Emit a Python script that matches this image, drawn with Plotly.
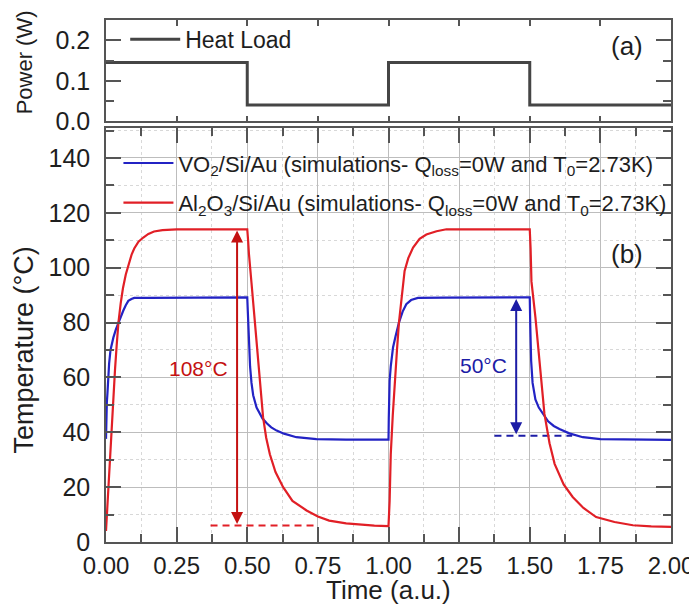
import plotly.graph_objects as go

# ---------------- data ----------------
# (a) heat load step profile
heat_time = [0.0, 0.5, 1.0, 1.5, 2.0]
heat_load = [0.145, 0.04, 0.145, 0.04, 0.04]

# (b) VO2/Si/Au simulation
vo2_time = [
    0.000, 0.001, 0.003, 0.005, 0.008, 0.011, 0.016, 0.021, 0.026, 0.035, 0.044, 0.052, 0.061, 0.070, 0.079, 0.090, 0.100, 0.150, 0.250, 0.499,
    0.500, 0.502, 0.504, 0.507, 0.510, 0.515, 0.521, 0.533, 0.545, 0.554, 0.570, 0.585, 0.604, 0.630, 0.674, 0.745, 0.850, 0.999,
    1.000, 1.001, 1.004, 1.008, 1.012, 1.016, 1.025, 1.037, 1.050, 1.063, 1.080, 1.104, 1.200, 1.499,
    1.500, 1.502, 1.505, 1.510, 1.520, 1.532, 1.546, 1.565, 1.585, 1.605, 1.640, 1.688, 1.750, 1.850, 2.000]
vo2_temp = [
    37.6, 46.0, 51.0, 54.0, 60.0, 65.0, 70.0, 72.5, 74.5, 77.5, 80.0, 82.5, 84.3, 86.3, 87.9, 88.6, 89.0, 89.0, 89.1, 89.2,
    89.2, 84.0, 77.0, 70.0, 64.0, 58.0, 53.5, 49.0, 46.5, 45.0, 43.2, 41.8, 40.6, 39.5, 38.2, 37.5, 37.3, 37.3,
    37.3, 45.0, 58.8, 64.0, 68.0, 70.9, 75.0, 80.0, 84.0, 86.7, 88.2, 89.0, 89.1, 89.2,
    89.2, 78.0, 66.0, 58.0, 52.0, 49.0, 46.7, 44.0, 42.3, 41.2, 39.6, 38.2, 37.5, 37.3, 37.2]

# (b) Al2O3/Si/Au simulation
al2o3_time = [
    0.000, 0.004, 0.008, 0.012, 0.016, 0.020, 0.026, 0.032, 0.038, 0.044, 0.052, 0.060, 0.070, 0.080, 0.091, 0.100, 0.115, 0.132, 0.150, 0.170, 0.200, 0.250, 0.350, 0.499,
    0.500, 0.503, 0.506, 0.515, 0.527, 0.540, 0.556, 0.567, 0.580, 0.600, 0.627, 0.660, 0.710, 0.750, 0.790, 0.850, 0.900, 0.950, 0.999,
    1.000, 1.004, 1.008, 1.015, 1.022, 1.030, 1.037, 1.047, 1.057, 1.070, 1.087, 1.110, 1.134, 1.170, 1.205, 1.300, 1.400, 1.499,
    1.500, 1.503, 1.506, 1.520, 1.535, 1.552, 1.570, 1.588, 1.620, 1.652, 1.690, 1.735, 1.800, 1.865, 1.930, 2.000]
al2o3_temp = [
    4.0, 12.0, 20.0, 28.0, 36.0, 44.0, 54.0, 63.0, 72.0, 80.0, 87.0, 92.5, 97.5, 101.5, 104.9, 107.0, 109.5, 111.0, 112.3, 113.2, 113.7, 114.0, 114.0, 114.0,
    114.0, 110.0, 105.0, 94.5, 80.6, 65.0, 45.5, 38.0, 32.0, 25.5, 20.0, 15.0, 11.5, 9.3, 7.8, 6.8, 6.3, 6.0, 5.8,
    5.8, 15.0, 32.0, 46.0, 58.8, 70.0, 80.0, 90.0, 98.8, 103.5, 107.3, 110.5, 112.1, 113.3, 114.0, 114.0, 114.0, 114.0,
    114.0, 107.0, 95.0, 82.0, 65.0, 46.7, 36.0, 28.5, 21.0, 16.4, 12.4, 9.1, 7.3, 6.1, 5.7, 5.5]

# swing annotations
al2o3_swing_time = 0.464
al2o3_swing = [6.0, 113.6]          # 108 °C swing
al2o3_ref_time = [0.37, 0.75]
vo2_swing_time = 1.452
vo2_swing = [38.7, 88.6]            # 50 °C swing
vo2_ref_time = [1.375, 1.65]

labels_b = ["VO<sub>2</sub>/Si/Au (simulations- Q<sub>loss</sub>=0W and T<sub>0</sub>=2.73K)",
            "Al<sub>2</sub>O<sub>3</sub>/Si/Au (simulations- Q<sub>loss</sub>=0W and T<sub>0</sub>=2.73K)"]

# ---------------- styling ----------------
FONT = "Liberation Sans, Arial, sans-serif"
AX = "#555555"
TXT = "#1e1e1e"
RED = "#e11f26"
RED_D = "#c41111"
BLUE = "#2323c4"
BLUE_D = "#1c1ca6"

fig = go.Figure()

fig.add_trace(go.Scatter(x=heat_time, y=heat_load, mode="lines", name="Heat Load",
                         line=dict(shape="hv", color="#454545", width=3),
                         xaxis="x2", yaxis="y2", legend="legend"))

fig.add_trace(go.Scatter(x=vo2_ref_time, y=[vo2_swing[0]] * 2, mode="lines", showlegend=False,
                         line=dict(color=BLUE_D, width=2, dash="7px,5px"), hoverinfo="skip"))
fig.add_trace(go.Scatter(x=al2o3_ref_time, y=[al2o3_swing[0]] * 2, mode="lines", showlegend=False,
                         line=dict(color=RED, width=2, dash="7px,5px"), hoverinfo="skip"))

fig.add_trace(go.Scatter(x=vo2_time, y=vo2_temp, mode="lines", name=labels_b[0],
                         line=dict(color=BLUE, width=2.2), legend="legend2", legendgroup="g1"))
fig.add_trace(go.Scatter(x=al2o3_time, y=al2o3_temp, mode="lines", name=labels_b[1],
                         line=dict(color=RED, width=2.2), legend="legend2", legendgroup="g2"))

common_x = dict(range=[0, 2], tick0=0, showline=True, linecolor=AX, linewidth=1.5,
                mirror="allticks", zeroline=False, tickcolor=AX, tickwidth=1.5, ticks="inside",
                automargin=False)

# the page body adds an 8px offset, so the figure is sized to fit the 697x610 window
fig.update_layout(
    width=689, height=602,
    margin=dict(l=98, r=26, t=11, b=68),
    paper_bgcolor="white", plot_bgcolor="white",
    font=dict(family=FONT, color=TXT, size=25),
    xaxis=dict(domain=[0, 1], anchor="y", dtick=0.25, tickformat=".2f", ticklen=15,
               showgrid=True, gridcolor="#bdbdbd", gridwidth=1,
               minor=dict(dtick=0.125, ticks="inside", ticklen=8, tickwidth=1.5, tickcolor=AX,
                          showgrid=True, gridcolor="#d8d8d8", griddash="dot", gridwidth=1),
               tickfont=dict(size=24), ticklabelstandoff=1,
               **common_x),
    yaxis=dict(domain=[0, 0.7935], anchor="x", range=[0, 151], dtick=20, tick0=0,
               ticks="inside", ticklen=15, tickwidth=1.5, tickcolor=AX,
               showline=True, linecolor=AX, linewidth=1.5, mirror="allticks", zeroline=False,
               showgrid=True, gridcolor="#bdbdbd", gridwidth=1, automargin=False,
               minor=dict(dtick=10, ticks="inside", ticklen=8, tickwidth=1.5, tickcolor=AX,
                          showgrid=True, gridcolor="#d8d8d8", griddash="dot", gridwidth=1),
               tickfont=dict(size=25), ticklabelstandoff=9),
    xaxis2=dict(domain=[0, 1], anchor="y2", matches="x", dtick=0.25, ticklen=6,
                showticklabels=False, showgrid=False, **common_x),
    yaxis2=dict(domain=[0.806, 1], anchor="x2", range=[0, 0.25], dtick=0.1, tick0=0, tickformat=".1f",
                ticks="inside", ticklen=15, tickwidth=1.5, tickcolor=AX,
                showline=True, linecolor=AX, linewidth=1.5, mirror="allticks", zeroline=False,
                showgrid=False, automargin=False,
                minor=dict(dtick=0.05, ticks="inside", ticklen=8, tickwidth=1.5, tickcolor=AX, showgrid=False),
                tickfont=dict(size=25), ticklabelstandoff=9),
    legend=dict(x=0.034, y=0.961, xanchor="left", yanchor="middle", bgcolor="rgba(0,0,0,0)",
                font=dict(size=23, color=TXT), itemwidth=50),
    legend2=dict(x=0.022, y=0.686, xanchor="left", yanchor="middle", bgcolor="rgba(0,0,0,0)",
                 font=dict(size=22, color=TXT), itemwidth=50, tracegroupgap=8),
    showlegend=True,
)

ann = []
# panel tags
ann.append(dict(x=1.844, y=0.186, xref="x2", yref="y2", text="(a)", showarrow=False,
                font=dict(size=26, color=TXT)))
ann.append(dict(x=1.844, y=105, xref="x", yref="y", text="(b)", showarrow=False,
                font=dict(size=26, color=TXT)))
# swing labels
ann.append(dict(x=0.329, y=63.2, xref="x", yref="y", text="108°C", showarrow=False,
                font=dict(size=21, color=RED_D)))
ann.append(dict(x=1.337, y=64.3, xref="x", yref="y", text="50°C", showarrow=False,
                font=dict(size=21, color=BLUE_D)))
# double-headed arrows
for t, (lo, hi), col in [(al2o3_swing_time, al2o3_swing, RED_D), (vo2_swing_time, vo2_swing, BLUE_D)]:
    ann.append(dict(x=t, y=hi, ax=t, ay=lo, xref="x", yref="y", axref="x", ayref="y",
                    text="", showarrow=True, arrowside="end+start", arrowhead=2, startarrowhead=2,
                    arrowsize=1.2, startarrowsize=1.2, arrowwidth=2, arrowcolor=col,
                    standoff=0, startstandoff=0))
# axis titles
ann.append(dict(x=-0.145, y=0.919, xref="paper", yref="paper", text="Power (W)", textangle=-90,
                showarrow=False, font=dict(size=22, color=TXT), xanchor="center", yanchor="middle"))
ann.append(dict(x=-0.145, y=0.367, xref="paper", yref="paper", text="Temperature (°C)", textangle=-90,
                showarrow=False, font=dict(size=27, color=TXT), xanchor="center", yanchor="middle"))
ann.append(dict(x=0.5, y=-0.092, xref="paper", yref="paper", text="Time (a.u.)",
                showarrow=False, font=dict(size=26, color=TXT), xanchor="center", yanchor="middle"))
fig.update_layout(annotations=ann)

fig.write_html("out.html")
